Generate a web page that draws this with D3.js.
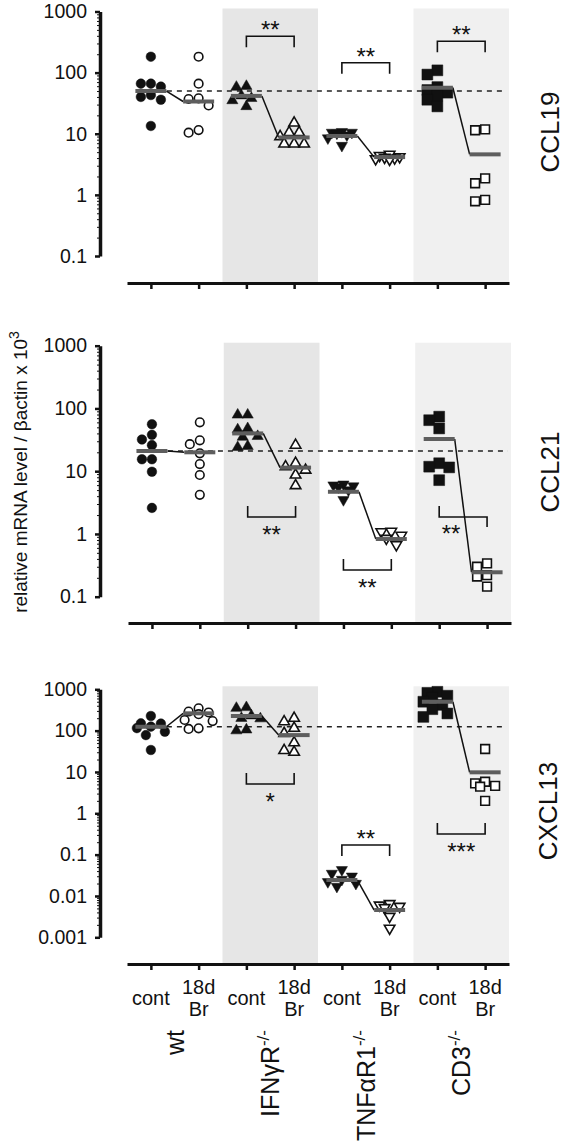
<!DOCTYPE html>
<html><head><meta charset="utf-8">
<script src="https://cdn.jsdelivr.net/npm/d3@7"></script>
<style>
body{margin:0;background:#fff}
svg{display:block}
text{font-family:"Liberation Sans",Arial,sans-serif;fill:#111}
</style>
</head><body>
<svg id="c" width="566" height="1146"></svg>
<script>
// ---------- data ----------
const categories = ["wt cont","wt 18d Br","IFNγR cont","IFNγR 18d Br","TNFαR1 cont","TNFαR1 18d Br","CD3 cont","CD3 18d Br"];
const conditionLabels = [["cont"],["18d","Br"]];
const groupNames = ["wt","IFNγR","TNFαR1","CD3"];
const groupSup = ["","-/-","-/-","-/-"];
const panelTitles = ["CCL19","CCL21","CXCL13"];
const yAxisTitle = "relative mRNA level / βactin x 10";
const yAxisTitleSup = "3";

const ccl19Ticks = [0.1, 1, 10, 100, 1000];
const ccl21Ticks = [0.1, 1, 10, 100, 1000];
const cxcl13Ticks = [0.001, 0.01, 0.1, 1, 10, 100, 1000];

const ccl19Values = [
  [182, 66, 66, 59, 43, 40, 36, 13.4],
  [182, 66, 38, 37, 29, 11.5, 10.4],
  [60, 58, 42, 38, 35, 28],
  [15, 10.5, 10.5, 9, 6.8, 6.8, 6.8],
  [10.8, 10.5, 10.5, 10.2, 9.5, 8.5, 6.4],
  [4.6, 4.4, 4.2, 4.1, 4.0, 3.9, 3.8],
  [109, 93, 58, 52, 47, 42, 36, 28],
  [11.8, 11.4, 1.86, 1.55, 0.83, 0.785]
];
const ccl19Means = [50, 33.7, 41.6, 8.7, 9.2, 4.15, 56.6, 4.6];
const ccl19Brackets = [
  {group:1, level:393, stars:"**", legs:"down"},
  {group:2, level:145, stars:"**", legs:"down"},
  {group:3, level:326, stars:"**", legs:"down"}
];

const ccl21Values = [
  [56, 38, 32, 26, 15.5, 15.5, 9.8, 2.6],
  [60, 31, 27, 19.3, 13, 8.7, 4.2],
  [79, 79, 48, 46, 36, 35, 25, 24],
  [26, 13.4, 11.8, 10.4, 8.7, 5.9],
  [6.2, 6.0, 5.8, 5.6, 5.0, 3.5],
  [1.1, 1.08, 0.95, 0.85, 0.67],
  [74, 65, 48, 13.4, 11.8, 11.5, 7.2],
  [0.34, 0.3, 0.22, 0.21, 0.145]
];
const ccl21Means = [21, 20, 40, 11.4, 4.7, 0.83, 32.6, 0.245];
const ccl21Brackets = [
  {group:1, level:1.86, stars:"**", legs:"up"},
  {group:2, level:0.267, stars:"**", legs:"up"},
  {group:3, level:1.86, stars:"**", legs:"mixed"}
];

const cxcl13Values = [
  [226, 150, 148, 125, 115, 94, 78, 34],
  [347, 290, 275, 250, 181, 170, 114, 110],
  [365, 350, 230, 200, 195, 105, 100],
  [199, 165, 114, 86, 51, 33, 30],
  [0.043, 0.035, 0.03, 0.025, 0.022, 0.02, 0.017],
  [0.0065, 0.006, 0.0056, 0.0052, 0.0032, 0.00165],
  [870, 820, 700, 620, 500, 420, 330, 260, 215],
  [36, 5.8, 5.3, 4.6, 4.4, 2.0]
];
const cxcl13Means = [124, 262, 226, 78, 0.0243, 0.00457, 500, 9.8];
const cxcl13Brackets = [
  {group:1, level:5.1, stars:"*", legs:"up"},
  {group:2, level:0.171, stars:"**", legs:"down"},
  {group:3, level:0.316, stars:"***", legs:"up"}
];

// ---------- layout ----------
const panels = [
  {values:ccl19Values, means:ccl19Means, brackets:ccl19Brackets, ticks:ccl19Ticks, title:panelTitles[0],
   yTop:11.5, yBot:256, xAxisY:283, xRange:[127,509], titleX:559, titleY:132},
  {values:ccl21Values, means:ccl21Means, brackets:ccl21Brackets, ticks:ccl21Ticks, title:panelTitles[1],
   yTop:345.7, yBot:596.7, xAxisY:623, xRange:[128,511], titleX:559, titleY:472},
  {values:cxcl13Values, means:cxcl13Means, brackets:cxcl13Brackets, ticks:cxcl13Ticks, title:panelTitles[2],
   yTop:689.3, yBot:937.3, xAxisY:964, xRange:[127,509], titleX:557, titleY:811}
];
const axisX = 100;
const markers = [
  {type:d3.symbolCircle, size:72, fill:true, rot:0},
  {type:d3.symbolCircle, size:58, fill:false, rot:0},
  {type:d3.symbolTriangle, size:54, fill:true, rot:0},
  {type:d3.symbolTriangle, size:48, fill:false, rot:0},
  {type:d3.symbolTriangle, size:54, fill:true, rot:180},
  {type:d3.symbolTriangle, size:48, fill:false, rot:180},
  {type:d3.symbolSquare, size:118, fill:true, rot:0},
  {type:d3.symbolSquare, size:76, fill:false, rot:0}
];

const svg = d3.select("#c");
const fmt = v => String(v);

function dodge(vals, yf, minD) {
  const placed = [];
  const res = new Array(vals.length);
  const order = vals.map((v,i)=>i).sort((a,b)=>vals[b]-vals[a]);
  const cands = [0,-5,5,-10,10,-14,14];
  order.forEach(i => {
    const yy = yf(vals[i]);
    let best = 0, bestScore = -Infinity;
    for (const o of cands) {
      let mind = Infinity;
      placed.forEach(q => { mind = Math.min(mind, Math.hypot(q.x-o, q.y-yy)); });
      if (mind >= minD) { best = o; break; }
      if (mind > bestScore) { bestScore = mind; best = o; }
    }
    placed.push({x:best, y:yy});
    res[i] = best;
  });
  return res;
}

let lastX = null;
panels.forEach((p, pi) => {
  const lo = p.ticks[0], hi = p.ticks[p.ticks.length-1];
  const y = d3.scaleLog().domain([lo, hi]).range([p.yBot, p.yTop]);
  const x = d3.scalePoint().domain(categories).range(p.xRange).padding(0.5);
  const step = x.step();
  lastX = x;
  const g = svg.append("g");

  // shaded genotype bands
  [[2,"#e6e6e6"],[6,"#f0f0f0"]].forEach(([a,c]) => {
    g.append("rect")
      .attr("x", x(categories[a]) - step/2).attr("width", 2*step)
      .attr("y", p.yTop - 3).attr("height", p.xAxisY - p.yTop + 3)
      .attr("fill", c);
  });

  // y axis
  const minor = [];
  for (let e = Math.log10(lo); e < Math.log10(hi); e++) {
    for (let k = 2; k <= 9; k++) minor.push(k * Math.pow(10, e));
  }
  g.append("g").attr("transform", `translate(${axisX},0)`)
    .call(d3.axisLeft(y).tickValues(minor).tickFormat("").tickSize(3).tickSizeOuter(0))
    .call(s => s.select(".domain").remove())
    .call(s => s.selectAll("line").attr("stroke","#111").attr("stroke-width",1));
  const ya = g.append("g").attr("transform", `translate(${axisX},0)`)
    .call(d3.axisLeft(y).tickValues(p.ticks).tickFormat(fmt).tickSize(5).tickSizeOuter(0).tickPadding(8));
  ya.select(".domain").attr("stroke","#111").attr("stroke-width",3.5);
  ya.selectAll(".tick line").attr("stroke","#111").attr("stroke-width",2.5);
  ya.selectAll(".tick text").attr("font-size",19.5).attr("font-family","Liberation Sans, Arial, sans-serif").attr("fill","#111");

  // x axis
  const xa = g.append("g").attr("transform", `translate(0,${p.xAxisY})`)
    .call(d3.axisBottom(x).tickFormat("").tickSize(6).tickSizeOuter(0));
  xa.select(".domain").attr("stroke","#111").attr("stroke-width",3);
  xa.selectAll(".tick line").attr("stroke","#111").attr("stroke-width",2.5);

  // dashed reference (wt control mean)
  g.append("line")
    .attr("x1", x(categories[0]) + 16).attr("x2", p.xRange[1] - 3)
    .attr("y1", y(p.means[0])).attr("y2", y(p.means[0]))
    .attr("stroke","#222").attr("stroke-width",1.6).attr("stroke-dasharray","5,5");

  // points
  p.values.forEach((vals, ci) => {
    const cx = x(categories[ci]);
    const offs = dodge(vals, y, 9.5);
    const m = markers[ci];
    const sym = d3.symbol().type(m.type).size(m.size);
    g.append("g").selectAll("path").data(vals).join("path")
      .attr("d", sym)
      .attr("transform", (v,i) => `translate(${cx + offs[i]},${y(v)}) rotate(${m.rot})`)
      .attr("fill", m.fill ? "#111" : "#fff")
      .attr("stroke", "#111")
      .attr("stroke-width", m.fill ? 0.5 : 1.6);
  });

  // connector lines and mean bars
  const hw = 15.5;
  for (let k = 0; k < 4; k++) {
    const a = 2*k, b = 2*k+1;
    g.append("line")
      .attr("x1", x(categories[a]) + hw).attr("y1", y(p.means[a]))
      .attr("x2", x(categories[b]) - hw).attr("y2", y(p.means[b]))
      .attr("stroke","#111").attr("stroke-width",1.5);
  }
  g.append("g").selectAll("line").data(p.means).join("line")
    .attr("x1", (v,i) => x(categories[i]) - hw).attr("x2", (v,i) => x(categories[i]) + hw)
    .attr("y1", v => y(v)).attr("y2", v => y(v))
    .attr("stroke","#5e5e5e").attr("stroke-width",4);

  // significance brackets
  p.brackets.forEach(b => {
    const x1 = x(categories[2*b.group]), x2 = x(categories[2*b.group+1]);
    const yl = y(b.level), leg = 11;
    let l1, l2, sc, sdx = 0;
    if (b.legs === "down") { l1 = yl + leg; l2 = yl + leg; sc = yl - 12; }
    else if (b.legs === "up") { l1 = yl - leg; l2 = yl - leg; sc = yl + 12; }
    else { l1 = yl - leg; l2 = yl + 10; sc = yl + 11; sdx = -12; }
    g.append("path")
      .attr("d", `M${x1},${l1}V${yl}H${x2}V${l2}`)
      .attr("fill","none").attr("stroke","#111").attr("stroke-width",1.6);
    g.append("text").attr("x", (x1+x2)/2 + sdx).attr("y", sc + 0.575*24)
      .attr("text-anchor","middle").attr("font-size",24).text(b.stars);
  });

  // panel title
  svg.append("text")
    .attr("transform", `translate(${p.titleX},${p.titleY}) rotate(-90)`)
    .attr("text-anchor","middle").attr("font-size",26).text(p.title);
});

// x labels (below bottom panel)
const xl = svg.append("g");
categories.forEach((c, i) => {
  const lab = conditionLabels[i % 2];
  const t = xl.append("text").attr("text-anchor","middle").attr("font-size",20);
  if (lab.length === 1) {
    t.append("tspan").attr("x", lastX(c)).attr("y", 1005).text(lab[0]);
  } else {
    t.append("tspan").attr("x", lastX(c)).attr("y", 994).text(lab[0]);
    t.append("tspan").attr("x", lastX(c)).attr("y", 1016).text(lab[1]);
  }
});
groupNames.forEach((gname, k) => {
  const cx = (lastX(categories[2*k]) + lastX(categories[2*k+1])) / 2;
  const t = xl.append("text")
    .attr("transform", `translate(${cx + 9},1030) rotate(-90)`)
    .attr("text-anchor","end").attr("font-size",25);
  t.append("tspan").text(gname);
  if (groupSup[k]) t.append("tspan").attr("dy",-10).attr("font-size",17).text(groupSup[k]);
});

// y axis title
const yt = svg.append("text")
  .attr("transform", "translate(27,472) rotate(-90)")
  .attr("text-anchor","middle").attr("font-size",19);
yt.append("tspan").text(yAxisTitle);
yt.append("tspan").attr("dy",-8).attr("font-size",14).text(yAxisTitleSup);
</script>
</body></html>
